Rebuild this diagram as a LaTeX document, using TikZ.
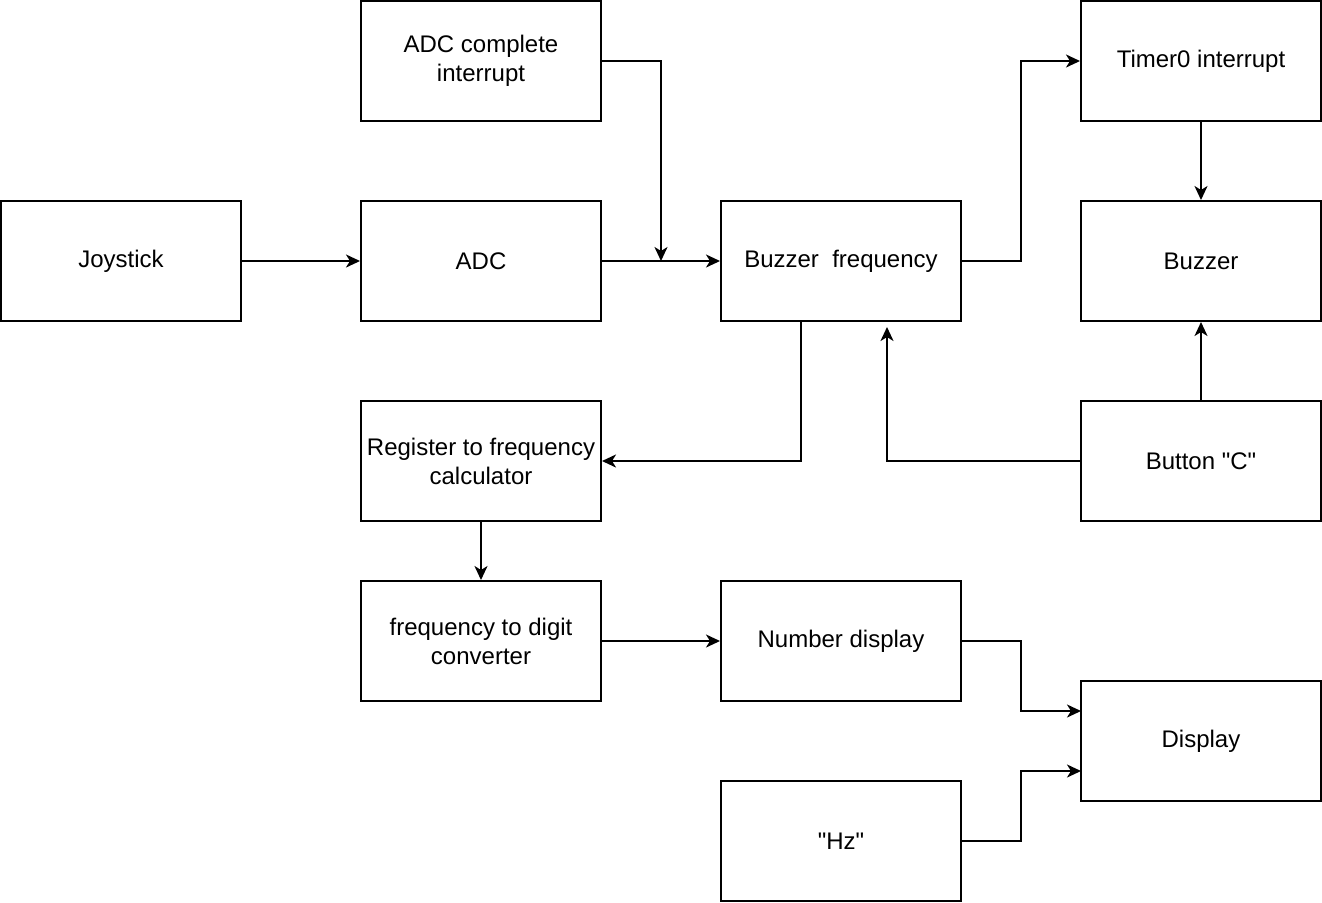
\documentclass[tikz,border=0pt]{standalone}
\usepackage{fontspec}
\setmainfont{Liberation Sans}[Ligatures=TeXOff]
\usetikzlibrary{arrows.meta}
\begin{document}
\begin{tikzpicture}[x=0.5pt,y=-0.5pt,
  block/.style={draw=black,line width=1pt,minimum width=120pt,minimum height=60pt,
    inner sep=2pt,align=center,font=\fontsize{12}{14.5}\selectfont},
  link/.style={line width=1pt,-{Stealth[length=7pt,width=6.5pt,inset=2pt]}}]
\useasboundingbox (0,0) rectangle (1322,902);
% blocks
\node[block] (adcint) at (481,61) {ADC complete\\interrupt};
\node[block] (joy) at (121,261) {Joystick};
\node[block] (adc) at (481,261) {ADC};
\node[block] (bfreq) at (841,261) {Buzzer\ \ frequency};
\node[block] (timer) at (1201,61) {Timer0 interrupt};
\node[block] (buzzer) at (1201,261) {Buzzer};
\node[block] (reg) at (481,461) {Register to frequency\\calculator};
\node[block] (btn) at (1201,461) {Button "C"};
\node[block] (conv) at (481,641) {frequency to digit\\converter};
\node[block] (num) at (841,641) {Number display};
\node[block] (disp) at (1201,741) {Display};
\node[block] (hz) at (841,841) {"Hz"};
% junction and free ends
\coordinate (adcjoin) at (661,261);
\coordinate (btnend) at (887,327);
% connectors
\draw[link] (adcint.east) -| (adcjoin);
\draw[link] (joy) -- (adc);
\draw[link] (adc) -- (bfreq);
\draw[link] (bfreq.east) -- (1021,261) |- (timer.west);
\draw[link] (timer) -- (buzzer);
\draw[link] (bfreq.south -| 801,0) |- (reg.east);
\draw[link] (btn.west) -| (btnend);
\draw[link] (btn) -- (buzzer);
\draw[link] (reg) -- (conv);
\draw[link] (conv) -- (num);
\draw[link] (num.east) -- (1021,641) |- (1081,711);
\draw[link] (hz.east) -- (1021,841) |- (1081,771);
\end{tikzpicture}
\end{document}
